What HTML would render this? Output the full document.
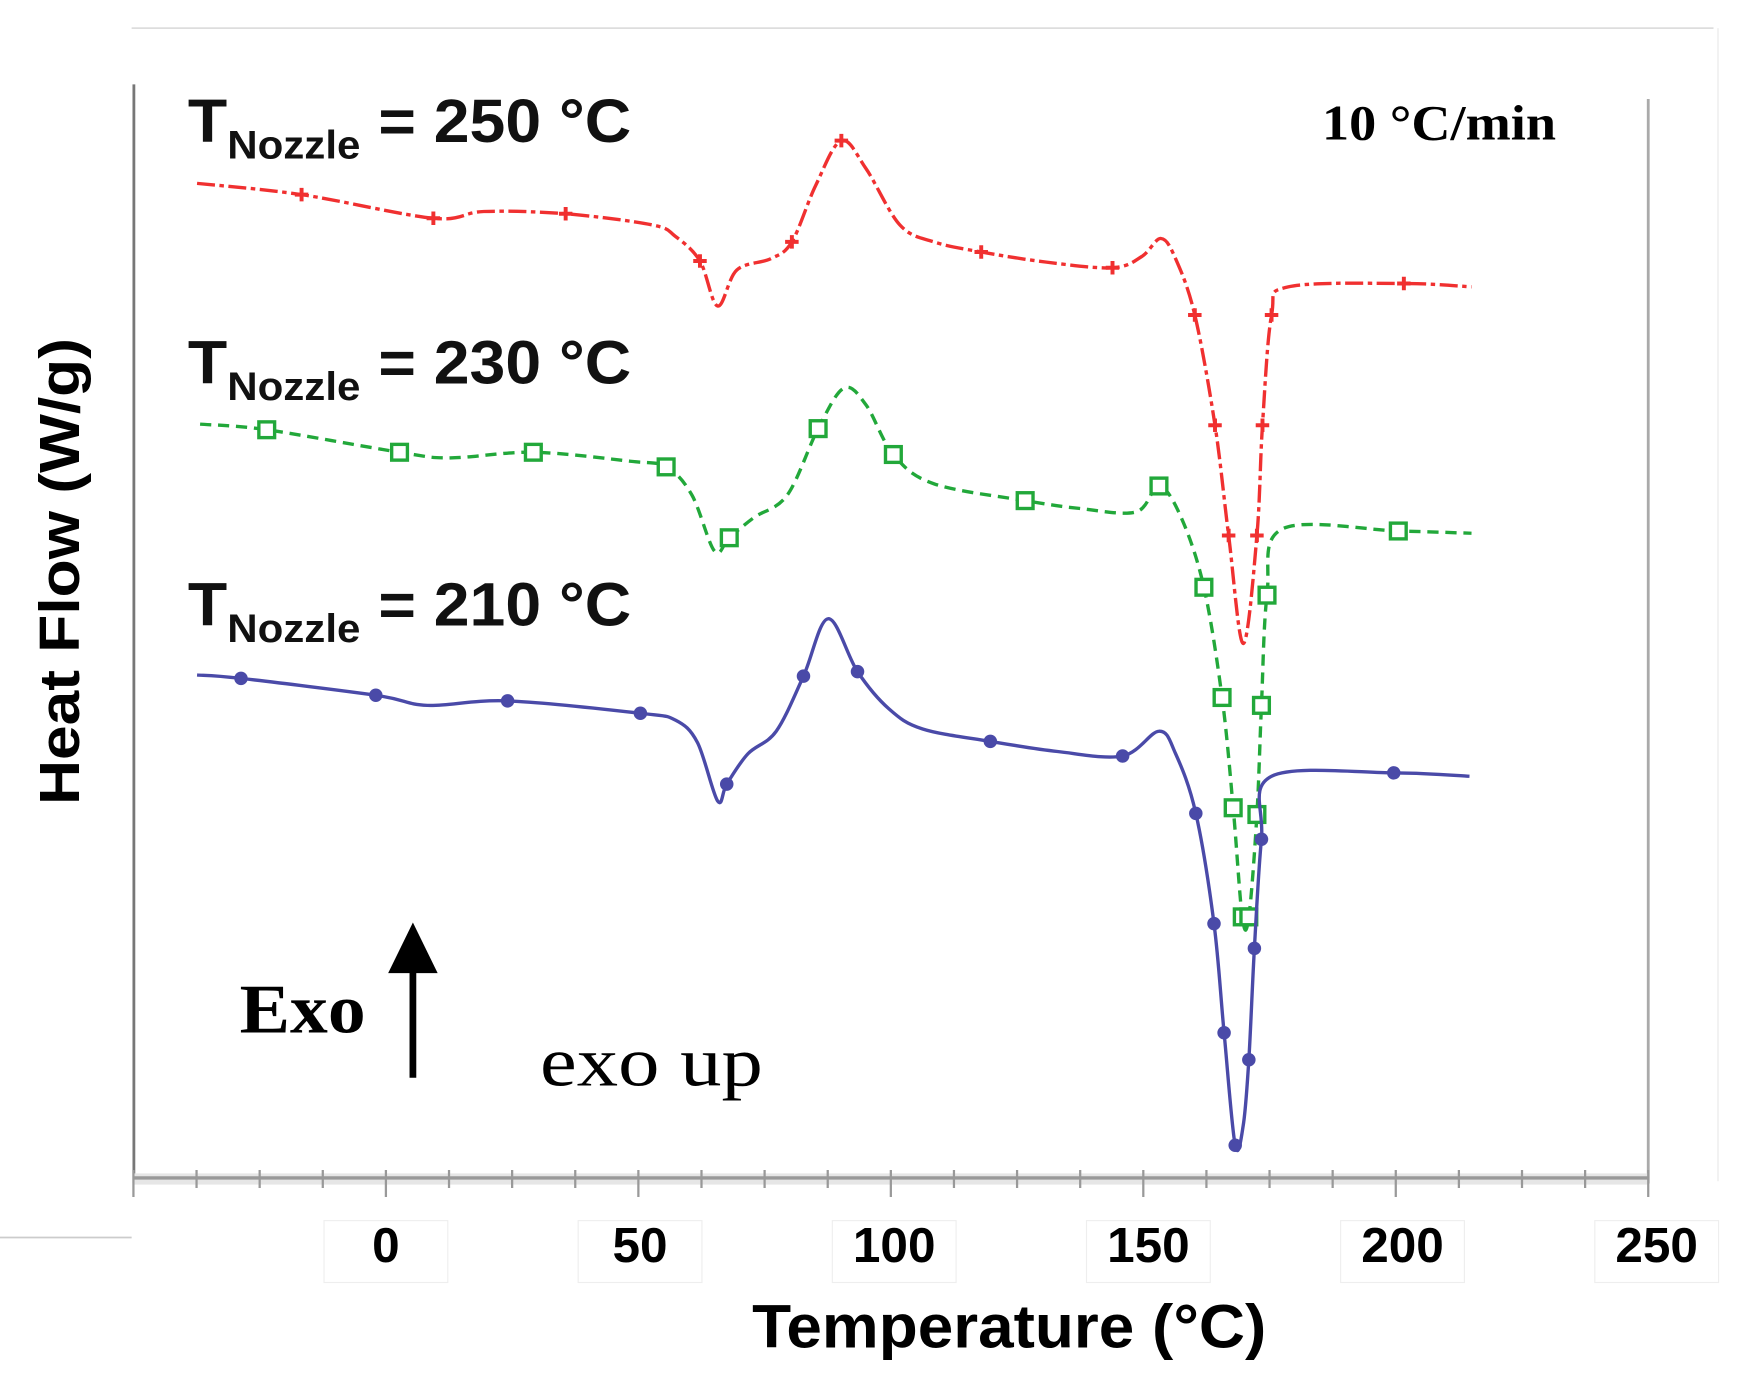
<!DOCTYPE html>
<html><head><meta charset="utf-8"><style>
html,body{margin:0;padding:0;background:#fff;}
svg{display:block;}
</style></head><body>
<svg id="chart" width="1763" height="1377" viewBox="0 0 1567 1224" preserveAspectRatio="none" xmlns="http://www.w3.org/2000/svg">
<g id="frame">
<line x1="117" y1="25" x2="1523" y2="25" stroke="#ddd" stroke-width="1.5"/>
<line x1="1527" y1="25" x2="1527" y2="1050" stroke="#f0f0f0" stroke-width="1.5"/>
<line x1="0" y1="1100" x2="117" y2="1100" stroke="#ccc" stroke-width="1.5"/>
<line x1="119" y1="75" x2="119" y2="1052" stroke="#777" stroke-width="2.5"/>
<line x1="1465" y1="88" x2="1465" y2="1052" stroke="#aaa" stroke-width="2.5"/>
<rect x="119" y="1043" width="1346" height="10" fill="#e6e6e6"/>
<line x1="119" y1="1047" x2="1465" y2="1047" stroke="#999" stroke-width="3"/>
</g>
<g id="ticks"></g>
<g id="series"></g>
<text transform="translate(167,126) scale(1.1,1.05)" font-family="Liberation Sans, sans-serif" font-weight="bold" font-size="52" fill="#111">T<tspan font-size="34" dy="14">Nozzle</tspan><tspan dy="-14"> = 250 °C</tspan></text>
<text transform="translate(167,341) scale(1.1,1.05)" font-family="Liberation Sans, sans-serif" font-weight="bold" font-size="52" fill="#111">T<tspan font-size="34" dy="14">Nozzle</tspan><tspan dy="-14"> = 230 °C</tspan></text>
<text transform="translate(167,556) scale(1.1,1.05)" font-family="Liberation Sans, sans-serif" font-weight="bold" font-size="52" fill="#111">T<tspan font-size="34" dy="14">Nozzle</tspan><tspan dy="-14"> = 210 °C</tspan></text>
<text x="1175" y="124" font-family="Liberation Serif, serif" font-weight="bold" font-size="44" textLength="208" lengthAdjust="spacingAndGlyphs" fill="#000">10 °C/min</text>
<text transform="translate(70,508) rotate(-90)" text-anchor="middle" font-family="Liberation Sans, sans-serif" font-weight="bold" font-size="50" textLength="415" lengthAdjust="spacingAndGlyphs" fill="#000">Heat Flow (W/g)</text>
<text x="897" y="1198" text-anchor="middle" font-family="Liberation Sans, sans-serif" font-weight="bold" font-size="54" textLength="457" lengthAdjust="spacingAndGlyphs" fill="#000">Temperature (°C)</text>
<text x="213" y="918" font-family="Liberation Serif, serif" font-weight="bold" font-size="62" textLength="112" lengthAdjust="spacingAndGlyphs" fill="#000">Exo</text>
<g>
<line x1="367" y1="958" x2="367" y2="860" stroke="#000" stroke-width="6"/>
<polygon points="345,865 389,865 367,820" fill="#000"/>
</g>
<text x="480" y="965" font-family="Liberation Serif, serif" font-size="62" textLength="198" lengthAdjust="spacingAndGlyphs" fill="#000">exo up</text>
</svg>
<script>
const xTicks = [0, 50, 100, 150, 200, 250];
const redT = [-37.4,-16.7,9.4,19.4,35.6,52.8,57.3,62.2,65.7,69.5,76.2,80.4,85.1,90.2,95.1,101.8,108.5,117.9,130.8,143.9,149.7,153.5,156.4,160.2,164.2,166.9,169.8,172.5,173.6,175.4,178.7,201.6,215.0];
const redV = [8.84,8.74,8.53,8.59,8.57,8.47,8.37,8.15,7.75,8.07,8.17,8.32,8.82,9.22,8.97,8.47,8.32,8.23,8.14,8.09,8.19,8.35,8.17,7.67,6.69,5.71,4.75,5.71,6.69,7.67,7.92,7.95,7.92];
const redMarkers = [1,2,4,7,11,13,17,19,23,24,25,27,28,29,31];
const greenT = [-36.8,-23.6,2.7,12.7,29.2,48.4,55.5,60.6,65.1,68.0,72.9,79.5,85.6,90.7,95.1,100.5,108.5,126.6,137.5,148.6,153.1,157.5,162.0,165.6,167.8,169.6,170.9,172.5,173.4,174.5,177.6,200.5,215.0];
const greenV = [6.70,6.65,6.45,6.40,6.45,6.37,6.32,6.07,5.57,5.69,5.87,6.07,6.66,7.02,6.87,6.43,6.17,6.02,5.95,5.92,6.15,5.87,5.25,4.27,3.29,2.32,2.32,3.23,4.20,5.18,5.77,5.75,5.73];
const greenMarkers = [1,2,4,6,9,12,15,17,20,22,23,24,25,26,27,28,29,31];
const blueT = [-37.4,-28.7,-2.0,8.2,24.1,50.4,57.3,61.7,65.7,67.5,71.7,77.3,82.7,87.6,93.4,99.6,106.3,119.7,133.0,145.9,153.1,156.4,160.4,164.0,166.0,168.2,169.8,170.9,172.0,173.4,175.4,199.6,214.6];
const blueV = [4.47,4.44,4.29,4.20,4.24,4.13,4.07,3.87,3.35,3.50,3.77,3.97,4.46,4.97,4.50,4.17,3.99,3.88,3.79,3.75,3.97,3.77,3.24,2.26,1.29,0.29,0.47,1.05,2.04,3.01,3.57,3.60,3.57];
const blueMarkers = [1,2,4,5,9,12,14,17,19,22,23,24,25,27,28,29,31];

const NS = 'http://www.w3.org/2000/svg';
const xScale = t => 343 + (t) * (1122 / 250);
const yScale = v => 1047 - v * 100;

const tickG = document.getElementById('ticks');
for (let t = -50; t <= 250; t += 12.5) {
  const major = Math.abs(t % 50) < 1e-6;
  const l = document.createElementNS(NS, 'line');
  
  
  l.setAttribute('x1', xScale(t)); l.setAttribute('x2', xScale(t));
  l.setAttribute('y1', 1040); l.setAttribute('y2', major ? 1064 : 1056);
  l.setAttribute('stroke', '#999'); l.setAttribute('stroke-width', 2);
  tickG.appendChild(l);
}
xTicks.forEach(t => {
  const x = xScale(t) + t * 0.03;
  const r = document.createElementNS(NS, 'rect');
  
  
  r.setAttribute('x', x - 55); r.setAttribute('y', 1085); r.setAttribute('width', 110); r.setAttribute('height', 55);
  r.setAttribute('fill', '#fff'); r.setAttribute('stroke', '#eee');
  tickG.appendChild(r);
  const tx = document.createElementNS(NS, 'text');
  
  
  tx.setAttribute('x', x); tx.setAttribute('y', 1122);
  tx.setAttribute('text-anchor', 'middle');
  tx.setAttribute('font-family', 'Liberation Sans, sans-serif');
  tx.setAttribute('font-weight', 'bold'); tx.setAttribute('font-size', '44');
  tx.textContent = t;
  tickG.appendChild(tx);
});

function smoothPath(pts) {
  let d = 'M' + pts[0][0] + ',' + pts[0][1];
  for (let i = 0; i < pts.length - 1; i++) {
    const p0 = pts[i - 1] || pts[i], p1 = pts[i], p2 = pts[i + 1], p3 = pts[i + 2] || p2;
    const c1 = [p1[0] + (p2[0] - p0[0]) / 6, p1[1] + (p2[1] - p0[1]) / 6];
    const c2 = [p2[0] - (p3[0] - p1[0]) / 6, p2[1] - (p3[1] - p1[1]) / 6];
    d += ' C' + c1.join(',') + ' ' + c2.join(',') + ' ' + p2.join(',');
  }
  return d;
}
const sg = document.getElementById('series');
function drawSeries(T, V, M, color, dash, kind, name) {
  const pts = T.map((t, i) => [xScale(t), yScale(V[i])]);
  const p = document.createElementNS(NS, 'path');
  
  
  p.setAttribute('d', smoothPath(pts));
  p.setAttribute('fill', 'none'); p.setAttribute('stroke', color);
  p.setAttribute('stroke-width', 3);
  if (dash) p.setAttribute('stroke-dasharray', dash);
  sg.appendChild(p);
  M.forEach(i => {
    const [x, y] = pts[i];
    let m;
    if (kind === 'cross') {
      m = document.createElementNS(NS, 'path');
      m.setAttribute('d', `M${x-6},${y}H${x+6}M${x},${y-6}V${y+6}`);
      m.setAttribute('stroke', color); m.setAttribute('stroke-width', 3.5);
    } else if (kind === 'square') {
      m = document.createElementNS(NS, 'rect');
      m.setAttribute('x', x - 7); m.setAttribute('y', y - 7);
      m.setAttribute('width', 14); m.setAttribute('height', 14);
      m.setAttribute('fill', '#fff'); m.setAttribute('stroke', color); m.setAttribute('stroke-width', 3);
    } else {
      m = document.createElementNS(NS, 'circle');
      m.setAttribute('cx', x); m.setAttribute('cy', y); m.setAttribute('r', 6);
      m.setAttribute('fill', color);
    }
    
    
    sg.appendChild(m);
  });
}
drawSeries(redT, redV, redMarkers, '#f03030', '16,4,4,4', 'cross', 'series-250');
drawSeries(greenT, greenV, greenMarkers, '#22a83a', '10,6', 'square', 'series-230');
drawSeries(blueT, blueV, blueMarkers, '#4a4aa8', null, 'dot', 'series-210');
</script>
</body></html>
